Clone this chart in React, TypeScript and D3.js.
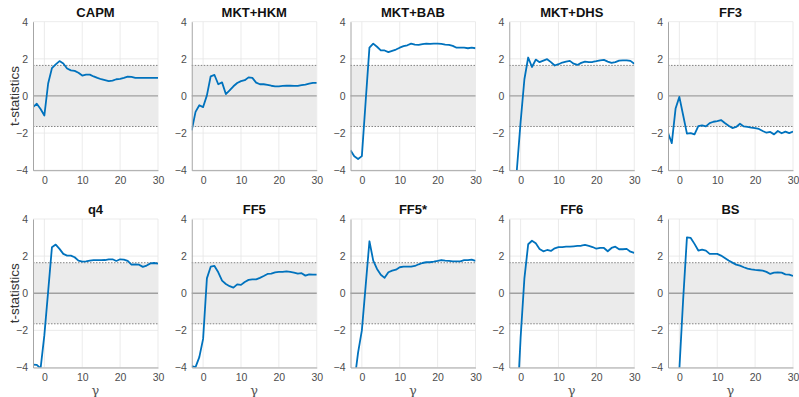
import { useEffect, useRef } from 'react';
import * as d3 from 'd3';

const gammas = d3.range(-3, 31);

const titles = ['CAPM', 'MKT+HKM', 'MKT+BAB', 'MKT+DHS', 'FF3', 'q4', 'FF5', 'FF5*', 'FF6', 'BS'];

const capm = [-0.6, -0.42, -0.7, -1.05, 0.67, 1.5, 1.7, 1.88, 1.75, 1.48, 1.38, 1.35, 1.25, 1.1, 1.15, 1.15, 1.05, 0.97, 0.9, 0.85, 0.8, 0.83, 0.9, 0.92, 0.97, 1.04, 1.03, 0.97, 0.97, 0.97, 0.97, 0.97, 0.97, 0.97];
const mktHkm = [-1.85, -0.86, -0.5, -0.6, 0.03, 1.06, 1.13, 0.63, 0.73, 0.1, 0.3, 0.52, 0.7, 0.8, 0.85, 1.0, 0.97, 0.72, 0.63, 0.63, 0.6, 0.55, 0.52, 0.52, 0.54, 0.55, 0.55, 0.54, 0.54, 0.58, 0.61, 0.66, 0.7, 0.7];
const mktBab = [-2.93, -3.25, -3.4, -3.24, -0.3, 2.6, 2.82, 2.65, 2.46, 2.45, 2.36, 2.43, 2.5, 2.6, 2.68, 2.73, 2.82, 2.77, 2.75, 2.79, 2.82, 2.8, 2.82, 2.82, 2.8, 2.77, 2.75, 2.7, 2.6, 2.6, 2.6, 2.57, 2.6, 2.57];
const mktDhs = [-6.5, -5.5, -4.0, -1.4, 0.9, 2.07, 1.56, 1.96, 1.82, 1.9, 1.98, 1.82, 1.64, 1.71, 1.8, 1.85, 1.89, 1.74, 1.67, 1.78, 1.85, 1.82, 1.83, 1.87, 1.92, 1.94, 1.85, 1.78, 1.82, 1.9, 1.92, 1.92, 1.89, 1.74];
const ff3 = [-1.98, -2.54, -0.68, -0.05, -1.04, -2.03, -2.0, -2.07, -1.62, -1.58, -1.64, -1.46, -1.39, -1.35, -1.3, -1.46, -1.6, -1.73, -1.67, -1.5, -1.64, -1.67, -1.71, -1.73, -1.78, -1.89, -1.98, -1.94, -2.07, -1.89, -2.01, -1.92, -2.0, -1.92];
const q4 = [-3.84, -3.86, -4.05, -2.26, 0.1, 2.48, 2.62, 2.39, 2.12, 2.03, 2.03, 1.94, 1.76, 1.7, 1.72, 1.76, 1.78, 1.78, 1.78, 1.79, 1.83, 1.83, 1.74, 1.83, 1.81, 1.74, 1.54, 1.56, 1.54, 1.42, 1.49, 1.61, 1.63, 1.6];
const ff5 = [-3.93, -3.98, -3.44, -2.46, 0.8, 1.43, 1.47, 1.13, 0.68, 0.5, 0.38, 0.3, 0.48, 0.45, 0.61, 0.72, 0.75, 0.75, 0.83, 0.93, 1.04, 1.06, 1.13, 1.15, 1.15, 1.18, 1.15, 1.11, 1.06, 1.08, 0.95, 1.02, 1.0, 1.0];
const ff5star = [-6.0, -4.8, -3.2, -2.0, 0.4, 2.8, 1.76, 1.31, 1.0, 0.83, 1.13, 1.22, 1.27, 1.4, 1.43, 1.43, 1.43, 1.47, 1.56, 1.63, 1.67, 1.67, 1.7, 1.74, 1.79, 1.76, 1.74, 1.72, 1.72, 1.72, 1.78, 1.78, 1.81, 1.74];
const ff6 = [-7.5, -7.0, -6.5, -2.4, 0.8, 2.64, 2.83, 2.69, 2.39, 2.26, 2.33, 2.28, 2.42, 2.48, 2.49, 2.51, 2.51, 2.53, 2.55, 2.56, 2.6, 2.55, 2.49, 2.4, 2.44, 2.44, 2.26, 2.44, 2.51, 2.37, 2.37, 2.39, 2.24, 2.17];
const bs = [-9.0, -8.5, -8.0, -4.1, -0.34, 3.01, 2.98, 2.66, 2.3, 2.35, 2.3, 2.12, 2.12, 2.12, 2.03, 1.9, 1.76, 1.65, 1.54, 1.49, 1.4, 1.33, 1.29, 1.26, 1.24, 1.22, 1.15, 1.04, 1.11, 1.13, 1.11, 1.02, 1.0, 0.93];

const series = [capm, mktHkm, mktBab, mktDhs, ff3, q4, ff5, ff5star, ff6, bs];

const xTicks = [0, 10, 20, 30];
const yTicks = [-4, -2, 0, 2, 4];
const critical = 1.645;

function App() {
  const ref = useRef<SVGSVGElement>(null);

  useEffect(() => {
    const svg = d3.select(ref.current);
    svg.selectAll('*').remove();

    const panelW = 125;
    const panelH = 148.5;
    const colX = d3.scaleLinear().domain([0, 4]).range([33, 668]);
    const rowY = [21.7, 219];

    const x = d3.scaleLinear().domain([-3, 30]).range([0, panelW]);
    const y = d3.scaleLinear().domain([-4, 4]).range([panelH, 0]);

    const defs = svg.append('defs');
    defs.append('clipPath').attr('id', 'clip')
      .append('rect').attr('width', panelW).attr('height', panelH);

    const line = d3.line<number>()
      .x((d, i) => x(gammas[i]))
      .y((d) => y(d));

    series.forEach((vals, k) => {
      const col = k % 5;
      const row = Math.floor(k / 5);
      const g = svg.append('g')
        .attr('transform', `translate(${colX(col)},${rowY[row]})`);

      // grid
      g.selectAll('.vg').data(xTicks).enter().append('line')
        .attr('x1', (d) => x(d)).attr('x2', (d) => x(d))
        .attr('y1', 0).attr('y2', panelH)
        .attr('stroke', '#e6e6e6').attr('stroke-width', 0.8);
      g.selectAll('.hg').data(yTicks).enter().append('line')
        .attr('x1', 0).attr('x2', panelW)
        .attr('y1', (d) => y(d)).attr('y2', (d) => y(d))
        .attr('stroke', '#e6e6e6').attr('stroke-width', 0.8);

      // confidence band
      g.append('rect')
        .attr('x', 0).attr('width', panelW)
        .attr('y', y(critical)).attr('height', y(-critical) - y(critical))
        .attr('fill', '#ebebeb');
      [critical, -critical].forEach((c) => {
        g.append('line')
          .attr('x1', 0).attr('x2', panelW)
          .attr('y1', y(c)).attr('y2', y(c))
          .attr('stroke', '#666').attr('stroke-width', 0.8)
          .attr('stroke-dasharray', '1.5,1.5');
      });
      g.append('line')
        .attr('x1', 0).attr('x2', panelW)
        .attr('y1', y(0)).attr('y2', y(0))
        .attr('stroke', '#a0a0a0').attr('stroke-width', 1.3);

      g.append('path')
        .datum(vals)
        .attr('clip-path', 'url(#clip)')
        .attr('d', line)
        .attr('fill', 'none')
        .attr('stroke', '#0072BD')
        .attr('stroke-width', 1.8)
        .attr('stroke-linejoin', 'round');

      // axes
      const xa = g.append('g')
        .attr('transform', `translate(0,${panelH})`)
        .call(d3.axisBottom(x).tickValues(xTicks).tickSize(0).tickPadding(6));
      const ya = g.append('g')
        .call(d3.axisLeft(y).tickValues(yTicks).tickSize(0).tickPadding(5));
      [xa, ya].forEach((a) => {
        a.select('.domain').attr('stroke', '#a6a6a6').attr('stroke-width', 1);
        a.selectAll('text')
          .attr('fill', '#4d4d4d')
          .attr('font-size', 10.5)
          .attr('font-family', 'Liberation Sans, Arial, sans-serif');
      });

      g.append('text')
        .attr('x', panelW / 2).attr('y', -5)
        .attr('text-anchor', 'middle')
        .attr('font-family', 'Liberation Sans, Arial, sans-serif')
        .attr('font-weight', 'bold')
        .attr('font-size', 13)
        .attr('fill', '#111')
        .text(titles[k]);

      if (col === 0) {
        g.append('text')
          .attr('transform', `translate(${14 - colX(0)},${panelH / 2}) rotate(-90)`)
          .attr('text-anchor', 'middle')
          .attr('dominant-baseline', 'central')
          .attr('font-family', 'Liberation Sans, Arial, sans-serif')
          .attr('font-size', 13.5)
          .attr('fill', '#333')
          .text('t-statistics');
      }

      if (row === 1) {
        g.append('text')
          .attr('x', panelW / 2).attr('y', panelH + 27)
          .attr('text-anchor', 'middle')
          .attr('font-family', 'DejaVu Serif, serif')
          .attr('font-size', 13)
          .attr('fill', '#555')
          .text('γ');
      }
    });
  }, []);

  return (
    <svg ref={ref} width={799} height={397}
      style={{ position: 'absolute', left: 0, top: 0, background: '#fff' }} />
  );
}

export default App;
